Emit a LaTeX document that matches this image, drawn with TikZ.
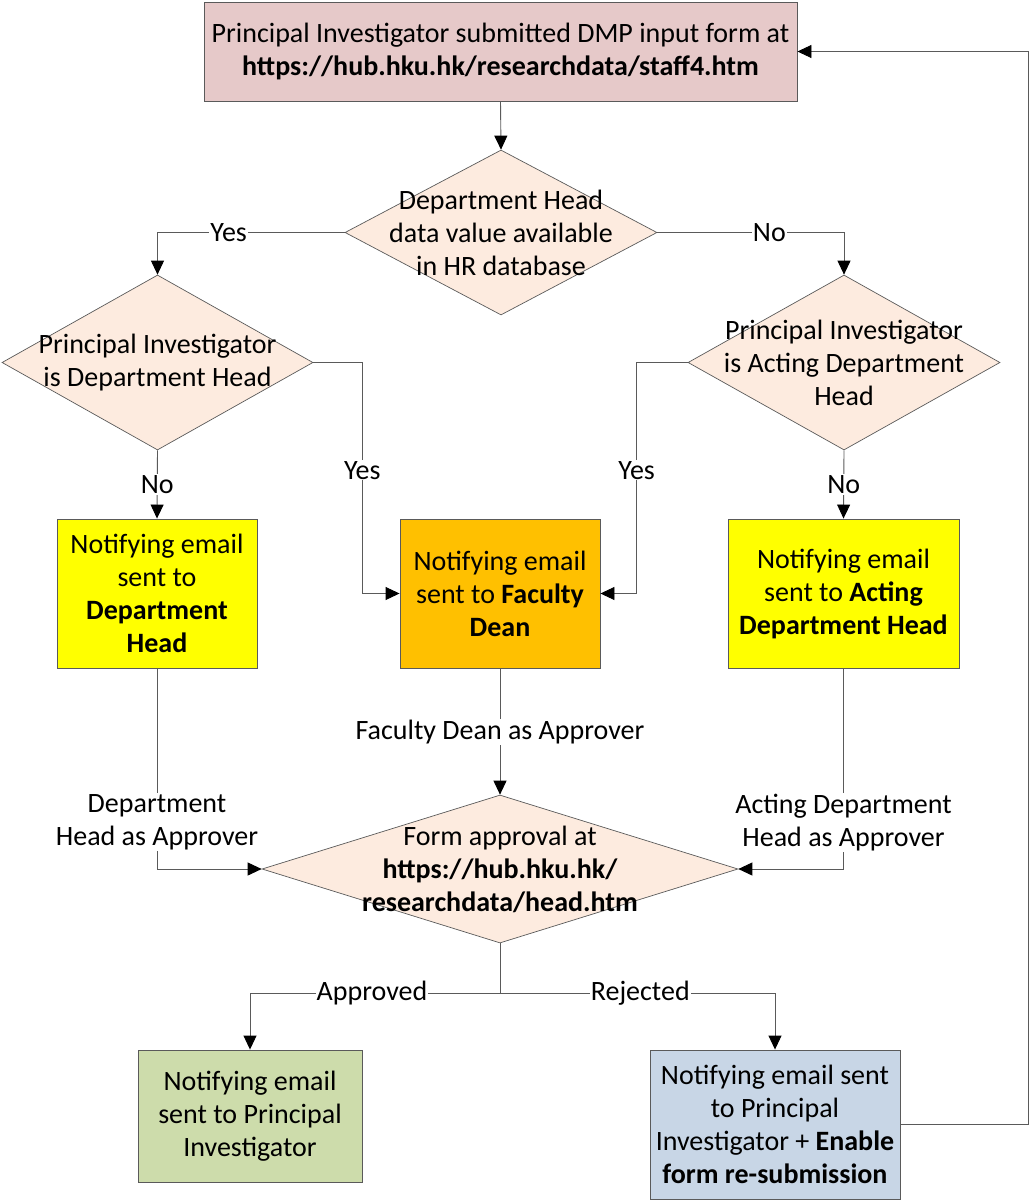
\documentclass[tikz,border=0pt]{standalone}
\usepackage{fontspec}
\setmainfont{Carlito}
\usepackage{tikz}
\usetikzlibrary{shapes.geometric, arrows.meta, positioning, calc}
\usepackage{xcolor}
\definecolor{startpink}{RGB}{230, 201, 201}
\definecolor{decisionpeach}{RGB}{253, 235, 223}
\definecolor{headyellow}{RGB}{255, 255, 0}
\definecolor{deanorange}{RGB}{255, 192, 0}
\definecolor{approvedgreen}{RGB}{205, 220, 171}
\definecolor{rejectedblue}{RGB}{200, 214, 230}
\definecolor{linegray}{RGB}{90, 90, 90}
\tikzstyle{process} = [rectangle, draw=linegray, line width=0.9pt, inner sep=1pt, align=center]
\tikzstyle{decision} = [diamond, draw=linegray, line width=0.7pt, fill=decisionpeach, inner sep=0pt]
\tikzstyle{dtext} = [align=center, inner sep=0pt]
\tikzstyle{arrow} = [line width=0.9pt, linegray, -{Triangle[length=14pt, width=13pt, color=black]}]
\tikzstyle{line} = [line width=0.9pt, linegray]
\tikzstyle{lbl} = [fill=white, inner sep=1pt, align=center, text=black]

\begin{document}
\begin{tikzpicture}[x=1pt, y=-1pt, font=\fontsize{28}{33}\selectfont]
\useasboundingbox (0,0) rectangle (1030,1201);

% Start
\node[process, fill=startpink, minimum width=593, minimum height=99] (submit) at (500.5,51.5)
  {Principal Investigator submitted DMP input form at\\ \textbf{https://hub.hku.hk/researchdata/staff4.htm}};

% Decisions
\node[decision, minimum width=312, minimum height=165] (hrdata) at (501,232.5) {};
\node[dtext] (hrdatatxt) at (hrdata.center) {Department Head\\ data value available\\ in HR database};
\node[decision, minimum width=311, minimum height=175] (pihead) at (157.5,362.5) {};
\node[dtext] (piheadtxt) at (pihead.center) {Principal Investigator\\ is Department Head};
\node[decision, minimum width=312, minimum height=175] (piacting) at (844,362.5) {};
\node[dtext] (piactingtxt) at (piacting.center) {Principal Investigator\\ is Acting Department\\ Head};

% Notifying emails
\node[process, fill=headyellow, minimum width=200, minimum height=149] (depthead) at (157,593.5)
  {Notifying email\\ sent to\\ \textbf{Department}\\ \textbf{Head}};
\node[process, fill=deanorange, minimum width=200, minimum height=149] (dean) at (500,593.5)
  {Notifying email\\ sent to \textbf{Faculty}\\ \textbf{Dean}};
\node[process, fill=headyellow, minimum width=231, minimum height=149] (actinghead) at (843.5,593.5)
  {Notifying email\\ sent to \textbf{Acting}\\ \textbf{Department Head}};

% Approval
\node[decision, minimum width=476, minimum height=148] (approval) at (500,869) {};
\node[dtext] (approvaltxt) at (approval.center) {Form approval at\\ \textbf{https://hub.hku.hk/}\\ \textbf{researchdata/head.htm}};

% Results
\node[process, fill=approvedgreen, minimum width=224, minimum height=132] (approved) at (250,1116)
  {Notifying email\\ sent to Principal\\ Investigator};
\node[process, fill=rejectedblue, minimum width=250, minimum height=149] (rejected) at (775,1124.5)
  {Notifying email sent\\ to Principal\\ Investigator + \textbf{Enable}\\ \textbf{form re-submission}};

% Connectors
\draw[arrow] (submit.south) -- (hrdata.north);
\draw[arrow] (hrdata.west) -| node[lbl, pos=0.31] {Yes} (pihead.north);
\draw[arrow] (hrdata.east) -| node[lbl, pos=0.30] {No} (piacting.north);
\draw[arrow] (pihead.east) -- ++(49,0) |- node[lbl, pos=0.233] {Yes} (dean.west);
\draw[arrow] (piacting.west) -- ++(-51,0) |- node[lbl, pos=0.233] {Yes} (dean.east);
\draw[arrow] (pihead.south) -- node[lbl] {No} (depthead.north);
\draw[arrow] (piacting.south) -- node[lbl] {No} (actinghead.north);
\draw[arrow] (dean.south) -- node[lbl] {Faculty Dean as Approver} (approval.north);
\draw[arrow] (depthead.south) |- node[lbl, pos=0.383] {Department\\ Head as Approver} (approval.west);
\draw[arrow] (actinghead.south) |- node[lbl, pos=0.383] {Acting Department\\ Head as Approver} (approval.east);
\draw[line] (approval.south) -- ++(0,50) coordinate (split);
\draw[arrow] (split) -| node[lbl, pos=0.256] {Approved} (approved.north);
\draw[arrow] (split) -| node[lbl, pos=0.255] {Rejected} (rejected.north);

% Re-submission loop
\draw[arrow] (rejected.east) -- ++(128,0) |- (submit.east);
\end{tikzpicture}
\end{document}
